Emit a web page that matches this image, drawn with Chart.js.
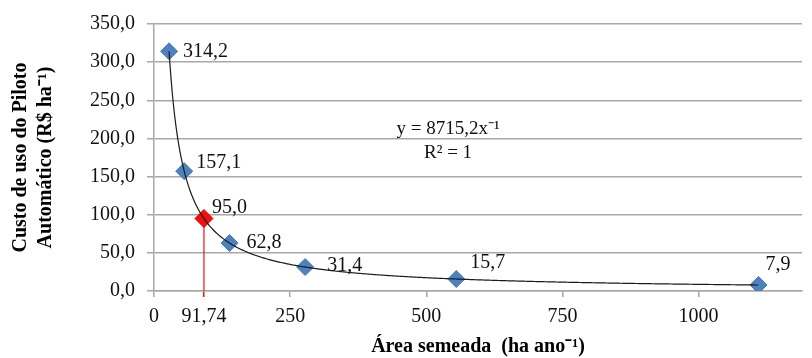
<!DOCTYPE html>
<html>
<head>
<meta charset="utf-8">
<script src="https://cdn.jsdelivr.net/npm/chart.js@4/dist/chart.umd.min.js"></script>
<style>
  html, body { margin: 0; padding: 0; background: #fff; }
</style>
</head>
<body>
<canvas id="chart" width="812" height="358"></canvas>
<script>
// area sown (ha/year) and cost of the autopilot (R$/ha)
const areaHa = [27.74, 55.48, 138.78, 277.55, 555.1, 1110.2];
const custoRha = [314.2, 157.1, 62.8, 31.4, 15.7, 7.9];

// highlighted break-even point
const pontoArea = [91.74];
const pontoCusto = [95.0];

const xTickValues = [0, 91.74, 250, 500, 750, 1000];
const xTickLabels = ['0', '91,74', '250', '500', '750', '1000'];
const yTickValues = [0, 50, 100, 150, 200, 250, 300, 350];

// power trendline printed on the chart: y = 8715,2 x^-1, R² = 1
const trendCoef = 8715.2;
const trendExp = -1;
const trendR2 = 1;

// label offsets in px (style only)
const labelOffsets = [[14, 0], [12, -8], [17, 0], [22, -1], [14, -16], [7, -20]];
const pontoLabelOffset = [8, -11];

const SERIF = '"Liberation Serif", "Times New Roman", serif';
const fmt = v => v.toFixed(1).replace('.', ',');

const extras = {
  id: 'extras',
  afterDatasetsDraw(chart) {
    const { ctx, scales: { x, y } } = chart;
    ctx.save();

    // trendline
    const x0 = x.getPixelForValue(Math.min(...areaHa));
    const x1 = x.getPixelForValue(Math.max(...areaHa));
    ctx.beginPath();
    for (let px = x0; px <= x1; px += 1) {
      const v = x.getValueForPixel(px);
      const py = y.getPixelForValue(trendCoef * Math.pow(v, trendExp));
      if (px === x0) ctx.moveTo(px, py); else ctx.lineTo(px, py);
    }
    ctx.strokeStyle = '#1a1a1a';
    ctx.lineWidth = 1.2;
    ctx.stroke();

    // data labels
    ctx.font = '20px ' + SERIF;
    ctx.fillStyle = '#111';
    ctx.textAlign = 'left';
    ctx.textBaseline = 'middle';
    areaHa.forEach((a, i) => {
      const px = x.getPixelForValue(a), py = y.getPixelForValue(custoRha[i]);
      ctx.fillText(fmt(custoRha[i]), px + labelOffsets[i][0], py + labelOffsets[i][1]);
    });
    pontoArea.forEach((a, i) => {
      const px = x.getPixelForValue(a), py = y.getPixelForValue(pontoCusto[i]);
      ctx.fillText(fmt(pontoCusto[i]), px + pontoLabelOffset[0], py + pontoLabelOffset[1]);
    });

    // equation
    const ex = x.getPixelForValue(540);
    ctx.textAlign = 'center';
    ctx.font = '19px ' + SERIF;
    ctx.fillText('y = ' + String(trendCoef).replace('.', ',') + 'x\u207B\u00B9', ex, y.getPixelForValue(212));
    ctx.fillText('R\u00B2 = ' + trendR2, ex, y.getPixelForValue(181));
    ctx.restore();
  }
};

new Chart(document.getElementById('chart'), {
  type: 'scatter',
  data: {
    datasets: [
      {
        label: 'ponto',
        data: pontoArea.map((a, i) => ({ x: a, y: pontoCusto[i] })),
        pointStyle: 'rectRot',
        pointRadius: 9,
        backgroundColor: '#f01010',
        borderColor: '#d00000',
        borderWidth: 1,
        order: 0,
      },
      {
        label: 'custo',
        data: areaHa.map((a, i) => ({ x: a, y: custoRha[i] })),
        pointStyle: 'rectRot',
        pointRadius: 8.5,
        backgroundColor: '#4f81bd',
        borderColor: '#4677b3',
        borderWidth: 1,
        order: 1,
      },
      {
        type: 'line',
        label: 'guia',
        data: [{ x: pontoArea[0], y: 0 }, { x: pontoArea[0], y: pontoCusto[0] }],
        borderColor: '#f01010',
        borderWidth: 1.2,
        pointRadius: 0,
        order: 2,
      },
    ],
  },
  options: {
    responsive: false,
    animation: false,
    devicePixelRatio: 1,
    layout: { padding: { top: 24, right: 0, left: 0, bottom: 0 } },
    plugins: { legend: { display: false }, tooltip: { enabled: false } },
    scales: {
      x: {
        type: 'linear',
        min: 0,
        max: 1190,
        afterBuildTicks: s => { s.ticks = xTickValues.map(v => ({ value: v })); },
        afterFit: s => { s.height = 67; },
        ticks: {
          autoSkip: false,
          maxRotation: 0,
          padding: 8,
          color: '#111',
          font: { family: SERIF, size: 20 },
          callback: (v, i) => xTickLabels[i],
        },
        grid: {
          drawOnChartArea: false,
          tickLength: 6,
          tickColor: c => (c.tick && c.tick.value === pontoArea[0] ? '#f01010' : '#a8a8a8'),
          lineWidth: 1.5,
        },
        border: { color: '#a8a8a8', width: 1.5 },
        title: {
          display: true,
          text: '\u00C1rea semeada  (ha ano\u207B\u00B9)',
          color: '#000',
          font: { family: SERIF, size: 20, weight: 'bold', lineHeight: 1.1 },
          padding: { top: 0, bottom: 0 },
        },
      },
      y: {
        min: 0,
        max: 350,
        afterBuildTicks: s => { s.ticks = yTickValues.map(v => ({ value: v })); },
        afterFit: s => { s.width = 154; },
        ticks: {
          padding: 12,
          color: '#111',
          font: { family: SERIF, size: 20 },
          callback: v => fmt(v),
        },
        grid: { color: '#a8a8a8', lineWidth: 1.5, tickLength: 7 },
        border: { color: '#a8a8a8', width: 1.5 },
        title: {
          display: true,
          text: ['Custo de uso do Piloto', 'Autom\u00E1tico (R$ ha\u207B\u00B9)'],
          color: '#000',
          font: { family: SERIF, size: 20, weight: 'bold', lineHeight: 1.25 },
          padding: { top: 8, bottom: 0 },
        },
      },
    },
  },
  plugins: [extras],
});
</script>
</body>
</html>
